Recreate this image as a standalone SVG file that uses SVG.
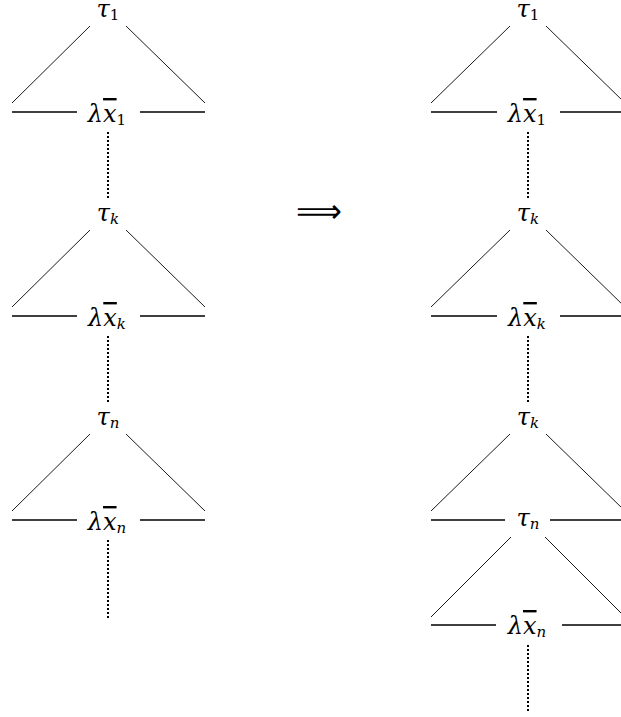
<svg xmlns="http://www.w3.org/2000/svg" width="621" height="717" viewBox="0 0 621 717">
<style>
.lbl{font-family:"DejaVu Serif","Liberation Serif",serif;font-style:italic;font-size:24px;fill:#000;text-anchor:middle}
.sub{font-size:15px}
.up{font-style:normal}
.ov{text-decoration:overline}
.diag{stroke:#000;stroke-width:0.9;fill:none}
.hor{stroke:#000;stroke-width:1.5;fill:none}
.dot{stroke:#000;stroke-width:2;stroke-dasharray:2 2;fill:none}
</style>
<rect width="621" height="717" fill="#fff"/>
<g id="connectors">
  <path class="diag" d="M90,26 L12,103 M126,26 L205,103"/>
  <path class="hor" d="M12,112 H77 M140,112 H205"/>
  <path class="dot" d="M108,132 V198"/>
  <path class="diag" d="M90,230 L12,307 M126,230 L205,307"/>
  <path class="hor" d="M12,316 H77 M140,316 H205"/>
  <path class="dot" d="M108,336 V402"/>
  <path class="diag" d="M90,434 L12,511 M126,434 L205,511"/>
  <path class="hor" d="M12,520 H77 M140,520 H205"/>
  <path class="dot" d="M108,540 V618"/>
  <path class="diag" d="M510,26 L431,103 M546,26 L625,103"/>
  <path class="hor" d="M431,112 H497 M560,112 H621"/>
  <path class="dot" d="M528,132 V198"/>
  <path class="diag" d="M510,230 L431,307 M546,230 L625,307"/>
  <path class="hor" d="M431,316 H497 M560,316 H621"/>
  <path class="dot" d="M528,336 V402"/>
  <path class="diag" d="M510,434 L431,511 M546,434 L625,511"/>
  <path class="hor" d="M431,520 H505 M550,520 H621"/>
  <path class="diag" d="M511,537 L431,617 M545,537 L625,617"/>
  <path class="hor" d="M431,625 H496 M562,625 H621"/>
  <path class="dot" d="M528,645 V711"/>
</g>
<g id="left-tau1"><text class="lbl" x="108" y="17">τ<tspan class="sub up" dy="3">1</tspan></text></g>
<g id="left-lam1"><text class="lbl" x="107" y="122">λ<tspan class="ov">x</tspan><tspan class="sub up" dy="3">1</tspan></text></g>
<g id="left-tauk"><text class="lbl" x="108" y="221">τ<tspan class="sub" dy="3">k</tspan></text></g>
<g id="left-lamk"><text class="lbl" x="107" y="326">λ<tspan class="ov">x</tspan><tspan class="sub" dy="3">k</tspan></text></g>
<g id="left-taun"><text class="lbl" x="108" y="425">τ<tspan class="sub" dy="3">n</tspan></text></g>
<g id="left-lamn"><text class="lbl" x="107" y="530">λ<tspan class="ov">x</tspan><tspan class="sub" dy="3">n</tspan></text></g>
<g id="arrow"><text x="319" y="222" style="font-family:'DejaVu Sans',sans-serif;font-size:32px;text-anchor:middle">⟹</text></g>
<g id="right-tau1"><text class="lbl" x="528" y="17">τ<tspan class="sub up" dy="3">1</tspan></text></g>
<g id="right-lam1"><text class="lbl" x="527" y="122">λ<tspan class="ov">x</tspan><tspan class="sub up" dy="3">1</tspan></text></g>
<g id="right-tauk1"><text class="lbl" x="528" y="221">τ<tspan class="sub" dy="3">k</tspan></text></g>
<g id="right-lamk"><text class="lbl" x="527" y="326">λ<tspan class="ov">x</tspan><tspan class="sub" dy="3">k</tspan></text></g>
<g id="right-tauk2"><text class="lbl" x="528" y="425">τ<tspan class="sub" dy="3">k</tspan></text></g>
<g id="right-taun"><text class="lbl" x="528" y="526">τ<tspan class="sub" dy="3">n</tspan></text></g>
<g id="right-lamn"><text class="lbl" x="527" y="634">λ<tspan class="ov">x</tspan><tspan class="sub" dy="3">n</tspan></text></g>
</svg>
